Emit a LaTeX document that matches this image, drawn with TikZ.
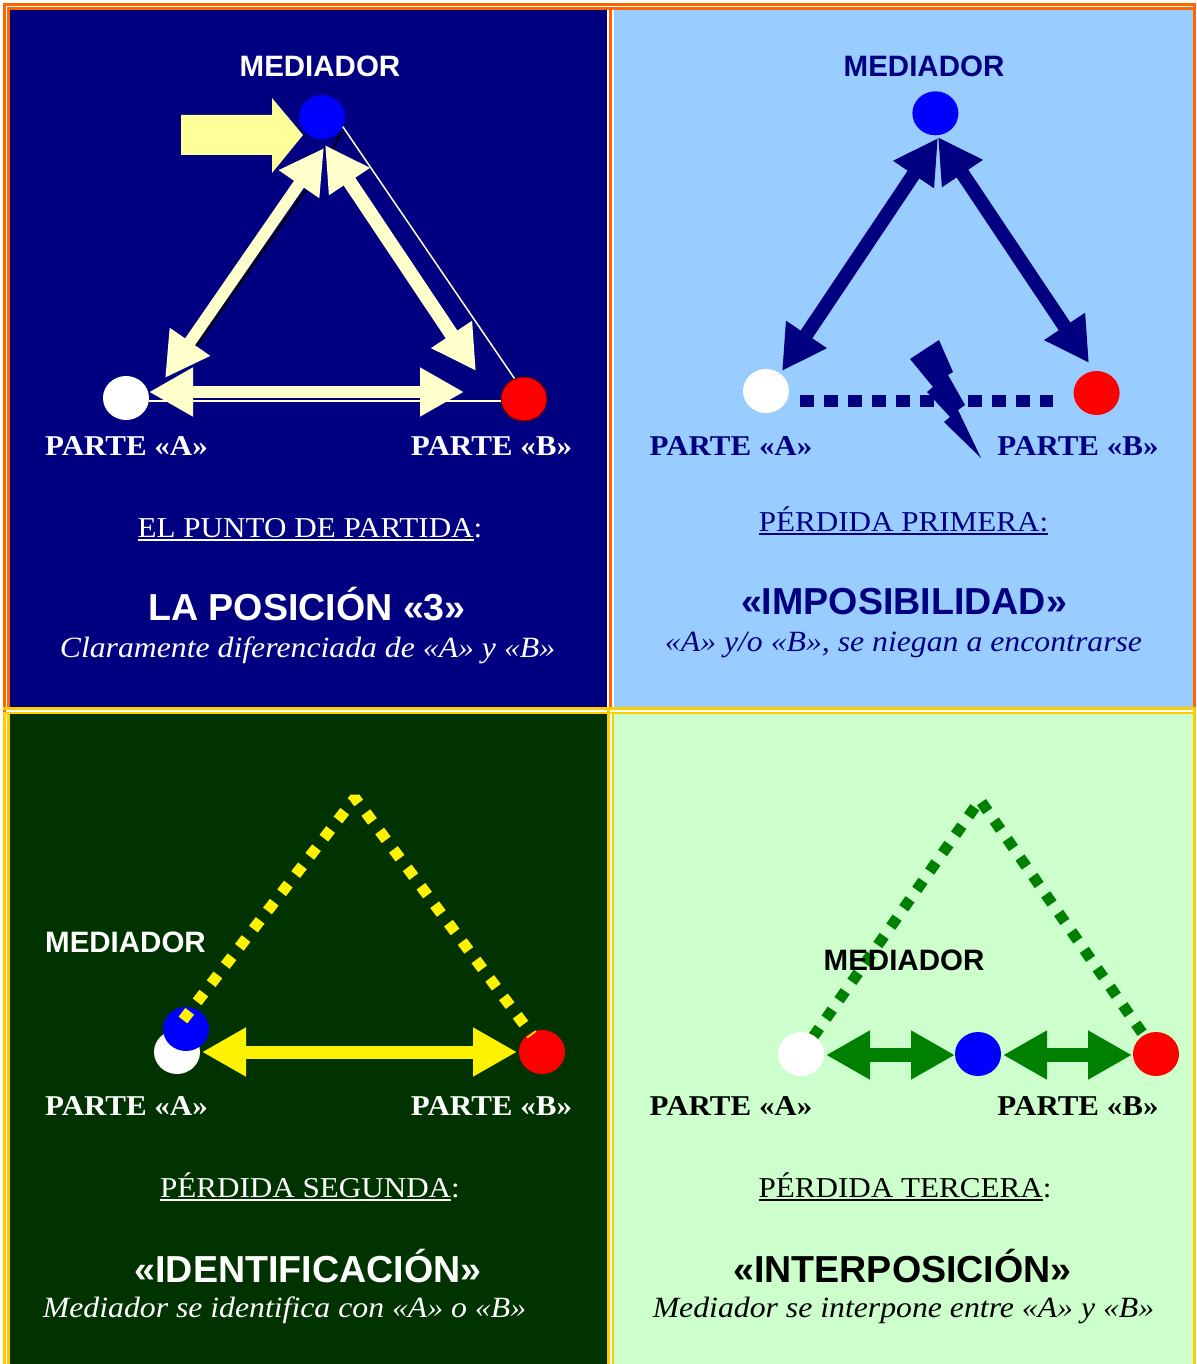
\documentclass[tikz,border=0pt]{standalone}
\usepackage{fontspec}
\usepackage{graphicx}
\setmainfont{Liberation Serif}
\newfontfamily\tnr{Liberation Serif}[FakeStretch=1.08]
\newfontfamily\sfb{Liberation Sans}
\usetikzlibrary{arrows.meta,shapes.geometric}
\definecolor{navyc}{HTML}{000080}
\definecolor{skyc}{HTML}{99CCFF}
\definecolor{dgreen}{HTML}{003300}
\definecolor{lgreen}{HTML}{CCFFCC}
\definecolor{orangec}{HTML}{FF6600}
\definecolor{goldc}{HTML}{FFCC00}
\definecolor{pyellow}{HTML}{FFFFCC}
\definecolor{byellow}{HTML}{FFFF99}
\definecolor{grc}{HTML}{008000}
\newcommand\ulin[1]{\setbox0\hbox{#1}\rlap{\rule[-4pt]{\wd0}{2.2pt}}\box0}
\tikzset{
  ball/.style={ellipse, minimum width=46pt, minimum height=44pt, inner sep=0pt},
  medlbl/.style={font=\sfb\bfseries\fontsize{29.5}{32}\selectfont, anchor=base, inner sep=0pt},
  partelbl/.style={font=\tnr\bfseries\fontsize{28.7}{30}\selectfont, anchor=base, inner sep=0pt},
  sublbl/.style={font=\tnr\fontsize{28.8}{30}\selectfont, anchor=base, inner sep=0pt},
  ttllbl/.style={font=\sfb\bfseries\fontsize{37.6}{40}\selectfont, anchor=base, inner sep=0pt},
  desclbl/.style={font=\tnr\itshape\fontsize{29.4}{31}\selectfont, anchor=base, inner sep=0pt},
  bigtip/.tip={Triangle[length=44pt,width=46pt]},
  dbl/.style={line width=#1, bigtip-bigtip},
}
\begin{document}
\begin{tikzpicture}[x=1pt,y=-1pt]
\useasboundingbox (0,0) rectangle (1196,1364);
\fill[white] (0,0) rectangle (1196,1364);
% panels
\fill[navyc] (10,10) rectangle (607,707);
\fill[skyc] (613.7,10) rectangle (1192.7,706.5);
\fill[dgreen] (10,714.3) rectangle (607,1364);
\fill[lgreen] (613.7,714.3) rectangle (1192.7,1364);
% orange borders (top row)
\draw[orangec, line width=3pt] (3,4.5) -- (1196,4.5);
\draw[orangec, line width=3pt] (4.5,3) -- (4.5,712);
\draw[orangec, line width=2.6pt] (7.4,8.7) -- (1196,8.7);
\draw[orangec, line width=2.6pt] (8.7,7.4) -- (8.7,708);
\draw[orangec, line width=2.4pt] (610.5,7.4) -- (610.5,708);
\draw[orangec, line width=3.4pt] (1194.3,3) -- (1194.3,707);
% gold borders (bottom row)
\draw[goldc, line width=3pt] (3,708.5) -- (1196,708.5);
\draw[goldc, line width=2.6pt] (3,713) -- (1196,713);
\draw[goldc, line width=3pt] (4.5,712) -- (4.5,1364);
\draw[goldc, line width=2.6pt] (8.7,711.7) -- (8.7,1364);
\draw[goldc, line width=3pt] (608.5,710) -- (608.5,1364);
\draw[goldc, line width=2pt] (612.7,711.7) -- (612.7,1364);
\draw[goldc, line width=3.4pt] (1194.3,707) -- (1194.3,1364);

% ================= TOP LEFT =================
\node[ball, fill=blue] (M1) at (322,117) {};
\node[ball, fill=white] (A1) at (126,398) {};
\node[ball, fill=red, draw=black!60!red, line width=1pt] (B1) at (524,399) {};
\draw[pyellow, line width=1.5pt] (M1.-25) -- (B1.115);
\draw[pyellow, line width=1.5pt] ([yshift=-3pt]A1.east) -- ([yshift=-2pt]B1.west);
\draw[black, line width=2pt] (306,190) -- (196,346);
\draw[black, line width=2pt] (333,149) -- (342,132);
\fill[byellow] (181,115) -- (272,115) -- (272,98) -- (303,135) -- (272,173) -- (272,155) -- (181,155) -- cycle;
\coordinate (tlA) at (165,378);
\coordinate (tlM) at (324,148);
\coordinate (trM) at (325,145);
\coordinate (trB) at (476,371);
\coordinate (tbA) at (149,392);
\coordinate (tbB) at (464,392);
\draw[pyellow, dbl=12pt] (tlA) -- (tlM);
\draw[pyellow, dbl=14pt] (trM) -- (trB);
\draw[pyellow, dbl=12pt] (tbA) -- (tbB);
\node[medlbl, white] (m1t) at (320,77) {MEDIADOR};
\node[partelbl, white] (a1t) at (126.5,455) {PARTE «A»};
\node[partelbl, white] (b1t) at (491.5,455) {PARTE «B»};
\node[sublbl, white] (s1t) at (310,537) {\ulin{EL PUNTO DE PARTIDA}:};
\node[ttllbl, white] (h1t) at (307,620) {LA POSICIÓN «3»};
\node[desclbl, white] (d1t) at (307.5,657) {Claramente diferenciada de «A» y «B»};

% ================= TOP RIGHT =================
\node[ball, fill=blue] (M2) at (935.4,113.3) {};
\node[ball, fill=white] (A2) at (766,391) {};
\node[ball, fill=red] (B2) at (1096.6,393) {};
\coordinate (rlA) at (782,371);
\coordinate (rlM) at (938,138);
\coordinate (rrM) at (938,137);
\coordinate (rrB) at (1089,363);
\draw[navyc, dbl=14pt] (rlA) -- (rlM);
\draw[navyc, dbl=14pt] (rrM) -- (rrB);
\coordinate (dA) at (800,401);
\coordinate (dB) at (1053,401);
\draw[navyc, line width=12pt, dash pattern=on 13.5pt off 10.5pt] (dA) -- (dB);
\fill[navyc] (939,340) -- (953,372) -- (948,375) -- (965,405) -- (958,410) -- (981,458) -- (944,422) -- (950,417) -- (927,392) -- (933,387) -- (910,359) -- cycle;
\node[medlbl, navyc] (m2t) at (924,77) {MEDIADOR};
\node[partelbl, navyc] (a2t) at (731,455) {PARTE «A»};
\node[partelbl, navyc] (b2t) at (1078,455) {PARTE «B»};
\node[sublbl, navyc] (s2t) at (903.5,531) {\ulin{PÉRDIDA PRIMERA:}};
\node[ttllbl, navyc] (h2t) at (904,614) {«IMPOSIBILIDAD»};
\node[desclbl, navyc] (d2t) at (903.5,651) {«A» y/o «B», se niegan a encontrarse};

% ================= BOTTOM LEFT =================
\node[ball, fill=white] (A3) at (177,1052) {};
\node[ball, fill=blue] (M3) at (186,1029) {};
\node[ball, fill=red] (B3) at (542,1052) {};
\coordinate (g1) at (183,1020);
\coordinate (g2) at (355,798);
\coordinate (g3) at (532,1035);
\draw[yellow, line width=11pt, dash pattern=on 11pt off 12pt, line join=bevel] (g1) -- (g2) -- (g3);
\coordinate (yA) at (202,1052);
\coordinate (yB) at (517,1052);
\draw[yellow, dbl=13pt] (yA) -- (yB);
\node[medlbl, white] (m3t) at (125.5,952) {MEDIADOR};
\node[partelbl, white] (a3t) at (126.5,1115) {PARTE «A»};
\node[partelbl, white] (b3t) at (491.5,1115) {PARTE «B»};
\node[sublbl, white] (s3t) at (310,1197) {\ulin{PÉRDIDA SEGUNDA}:};
\node[ttllbl, white] (h3t) at (308,1282) {«IDENTIFICACIÓN»};
\node[desclbl, white] (d3t) at (284.5,1317) {Mediador se identifica con «A» o «B»};

% ================= BOTTOM RIGHT =================
\coordinate (k1) at (813,1037);
\coordinate (k2) at (980,800);
\coordinate (k3) at (1145,1037);
\draw[grc, line width=11pt, dash pattern=on 11pt off 11.5pt, line join=bevel] (k1) -- (k2) -- (k3);
\node[ball, fill=white] (A4) at (801,1054) {};
\node[ball, fill=blue] (M4) at (978,1054) {};
\node[ball, fill=red] (B4) at (1156,1054) {};
\coordinate (q1) at (826,1055);
\coordinate (q2) at (955,1055);
\coordinate (q3) at (1003,1055);
\coordinate (q4) at (1132,1055);
\draw[grc, dbl=14pt] (q1) -- (q2);
\draw[grc, dbl=14pt] (q3) -- (q4);
\node[medlbl, black] (m4t) at (904,970) {MEDIADOR};
\node[partelbl, black] (a4t) at (731,1115) {PARTE «A»};
\node[partelbl, black] (b4t) at (1078,1115) {PARTE «B»};
\node[sublbl, black] (s4t) at (905,1197) {\ulin{PÉRDIDA TERCERA}:};
\node[ttllbl, black] (h4t) at (902.5,1282) {«INTERPOSICIÓN»};
\node[desclbl, black] (d4t) at (903.5,1317) {Mediador se interpone entre «A» y «B»};
\end{tikzpicture}
\end{document}
